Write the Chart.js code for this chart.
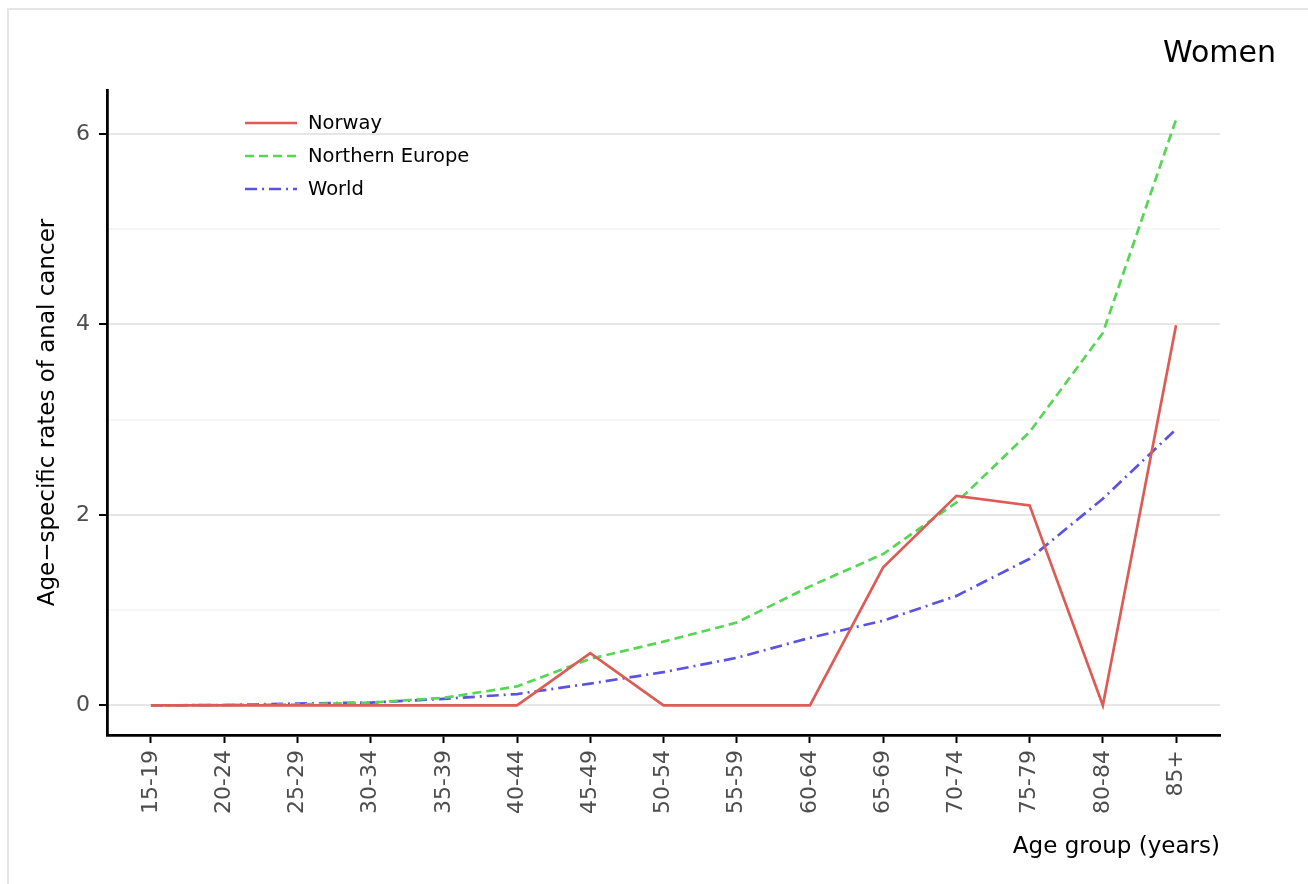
<!DOCTYPE html>
<html>
<head>
<meta charset="utf-8">
<script src="https://cdn.jsdelivr.net/npm/chart.js@4"></script>
<style>
  body { margin: 0; background: #fff; overflow: hidden; }
  #wrap { position: relative; width: 1308px; height: 884px; }
  #frame { position: absolute; left: 7px; top: 8px; width: 1320px; height: 900px;
           border-left: 2px solid #e6e6e6; border-top: 2px solid #e6e6e6; }
  canvas { position: absolute; left: 0; top: 0; }
</style>
</head>
<body>
<div id="wrap">
  <div id="frame"></div>
  <canvas id="myChart" width="1308" height="884"></canvas>
</div>
<script>
// age groups on the x axis
var ageGroups = ['15-19','20-24','25-29','30-34','35-39','40-44','45-49','50-54',
                 '55-59','60-64','65-69','70-74','75-79','80-84','85+'];
// rates
var norway   = [0, 0, 0, 0, 0, 0, 0.55, 0, 0, 0, 1.45, 2.20, 2.10, 0, 3.99];
var northEur = [0, 0.005, 0.01, 0.03, 0.08, 0.20, 0.49, 0.67, 0.87, 1.25, 1.59, 2.13, 2.87, 3.91, 6.15];
var world    = [0, 0.005, 0.02, 0.03, 0.07, 0.12, 0.23, 0.35, 0.50, 0.71, 0.89, 1.15, 1.54, 2.17, 2.90];
var yTicks   = [0, 1, 2, 3, 4, 5, 6];

var FONT = "'DejaVu Sans', sans-serif";

function pts(arr) {
  return arr.map(function(v, i) { return {x: i, y: v}; });
}

var data = {
  datasets: [
    { label: 'Norway', data: pts(norway), borderColor: '#dc5c55', borderWidth: 2.7, borderDash: [] },
    { label: 'Northern Europe', data: pts(northEur), borderColor: '#55d655', borderWidth: 2.7, borderDash: [9, 5] },
    { label: 'World', data: pts(world), borderColor: '#5b52df', borderWidth: 2.7, borderDash: [12, 5, 2, 5] }
  ]
};

// legend drawn inside the plot, ggplot style
var insideLegend = {
  id: 'insideLegend',
  afterDatasetsDraw: function(chart) {
    var c = chart.ctx, a = chart.chartArea;
    chart.data.datasets.forEach(function(ds, k) {
      var y = a.top + 33 + k * 33;
      c.save();
      c.strokeStyle = ds.borderColor;
      c.lineWidth = ds.borderWidth;
      c.setLineDash(ds.borderDash);
      c.beginPath();
      c.moveTo(a.left + 138, y);
      c.lineTo(a.left + 190, y);
      c.stroke();
      c.setLineDash([]);
      c.fillStyle = '#000';
      c.font = '19.5px ' + FONT;
      c.textAlign = 'left';
      c.textBaseline = 'middle';
      c.fillText(ds.label, a.left + 201, y + 1);
      c.restore();
    });
  }
};

// "Women" panel title at top right
var panelTitle = {
  id: 'panelTitle',
  afterDraw: function(chart) {
    var c = chart.ctx;
    c.save();
    c.fillStyle = '#000';
    c.font = '30px ' + FONT;
    c.textAlign = 'right';
    c.textBaseline = 'middle';
    c.fillText('Women', chart.width - 32, 54);
    c.restore();
  }
};

var ctx = document.getElementById('myChart').getContext('2d');
var chart = new Chart(ctx, {
  type: 'line',
  data: data,
  plugins: [insideLegend, panelTitle],
  options: {
    responsive: false,
    animation: false,
    layout: { padding: { top: 90, right: 88, left: 0, bottom: 0 } },
    elements: {
      point: { radius: 0 },
      line: { tension: 0, borderCapStyle: 'butt', fill: false }
    },
    plugins: { legend: { display: false }, tooltip: { enabled: false } },
    scales: {
      x: {
        type: 'linear',
        min: -0.6,
        max: 14.6,
        afterFit: function(s) { s.height = 149; },
        afterBuildTicks: function(s) { s.ticks = ageGroups.map(function(g, i) { return {value: i}; }); },
        border: { color: '#000', width: 2.8 },
        grid: { drawOnChartArea: false, tickColor: '#000', tickWidth: 2, tickLength: 8 },
        ticks: {
          autoSkip: false, minRotation: 90, maxRotation: 90, padding: 7,
          color: '#4d4d4d', font: { family: FONT, size: 22 },
          callback: function(v) { return ageGroups[v]; }
        },
        title: {
          display: true, text: 'Age group (years)', align: 'end',
          color: '#000', font: { family: FONT, size: 23 },
          padding: { top: 23, bottom: 23 }
        }
      },
      y: {
        type: 'linear',
        min: -0.31,
        max: 6.46,
        afterFit: function(s) { s.width = 107; },
        afterBuildTicks: function(s) { s.ticks = yTicks.map(function(v) { return {value: v}; }); },
        border: { color: '#000', width: 2.8 },
        grid: {
          color: function(c) { return c.tick && c.tick.value % 2 === 0 ? '#e6e6e6' : '#f6f6f6'; },
          lineWidth: 2,
          tickColor: function(c) { return c.tick && c.tick.value % 2 === 0 ? '#000' : 'rgba(0,0,0,0)'; },
          tickWidth: 2, tickLength: 8
        },
        ticks: {
          padding: 9, color: '#4d4d4d', font: { family: FONT, size: 22 },
          callback: function(v) { return v % 2 === 0 ? String(v) : ''; }
        },
        title: {
          display: true, text: 'Age\u2212specific rates of anal cancer',
          color: '#000', font: { family: FONT, size: 23 },
          padding: { top: 34, bottom: 34 }
        }
      }
    }
  }
});
</script>
</body>
</html>
